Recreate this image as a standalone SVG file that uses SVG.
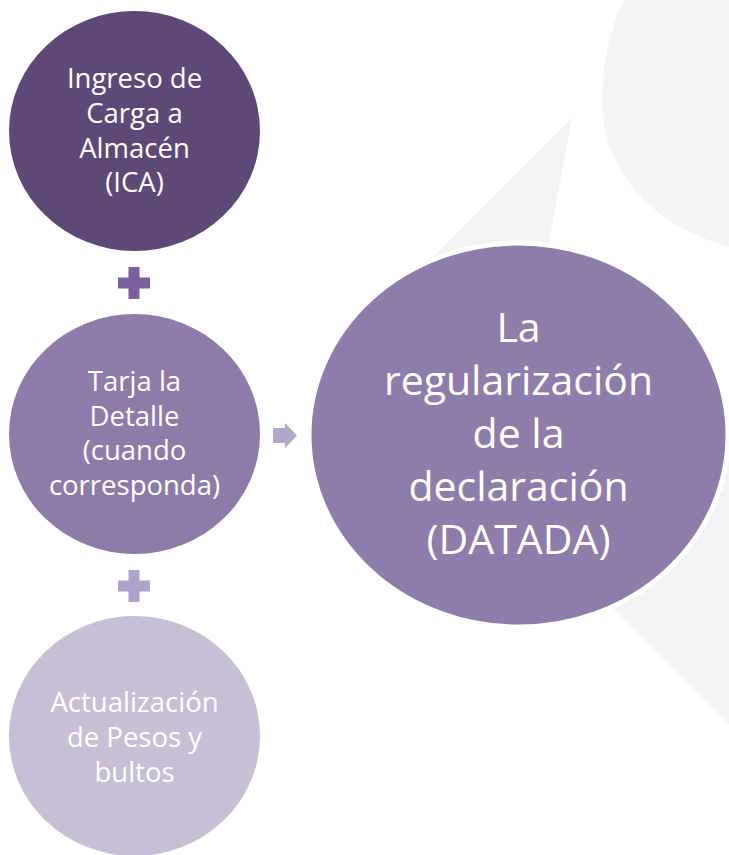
<svg xmlns="http://www.w3.org/2000/svg" width="729" height="855" viewBox="0 0 729 855">
  <style>
    .t { font-family: "Open Sans", "Noto Sans", "Liberation Sans", sans-serif; fill: #ffffff; text-anchor: middle; }
    .s { font-size: 27.5px; }
    .b { font-size: 41px; }
  </style>
  <rect width="729" height="855" fill="#ffffff"/>
  <g id="watermark">
    <path d="M625,0 C616,12 606,45 603,80 C600,110 604,140 618,165 C632,192 660,218 690,232 C705,239 718,244 729,247 L729,0 Z" fill="#f6f3f3"/>
    <polygon points="572,118 420,270 500,495 729,724 729,440 545,262" fill="#f2f3f5"/>
  </g>
  <g id="node-ica">
    <ellipse cx="134.5" cy="131" rx="125.5" ry="120" fill="#5e4878"/>
    <text class="t s" x="134.5" y="88">Ingreso de</text>
    <text class="t s" x="134.5" y="123">Carga a</text>
    <text class="t s" x="134.5" y="158">Almacén</text>
    <text class="t s" x="134.5" y="192">(ICA)</text>
  </g>
  <g id="node-tarja">
    <ellipse cx="134.5" cy="434" rx="125.5" ry="120" fill="#8e7baa"/>
    <text class="t s" x="134.5" y="391">Tarja la</text>
    <text class="t s" x="134.5" y="426">Detalle</text>
    <text class="t s" x="134.5" y="460">(cuando</text>
    <text class="t s" x="134.5" y="495">corresponda)</text>
  </g>
  <g id="node-pesos">
    <ellipse cx="134.5" cy="736" rx="125.5" ry="120" fill="#c6bfd6"/>
    <text class="t s" x="134.5" y="712">Actualización</text>
    <text class="t s" x="134.5" y="747">de Pesos y</text>
    <text class="t s" x="134.5" y="782">bultos</text>
  </g>
  <g id="node-datada">
    <ellipse cx="518.5" cy="435" rx="209.5" ry="192" fill="#8e7cab" stroke="#ffffff" stroke-width="5"/>
    <text class="t b" x="518.5" y="342">La</text>
    <text class="t b" x="518.5" y="395">regularización</text>
    <text class="t b" x="518.5" y="448">de la</text>
    <text class="t b" x="518.5" y="501">declaración</text>
    <text class="t b" x="518.5" y="554">(DATADA)</text>
  </g>
  <g id="connectors">
    <path d="M128.5,267 H139.5 V277.5 H150 V288.5 H139.5 V299 H128.5 V288.5 H118 V277.5 H128.5 Z" fill="#7b609c"/>
    <path d="M128.5,570 H139.5 V580.5 H150 V591.5 H139.5 V602 H128.5 V591.5 H118 V580.5 H128.5 Z" fill="#b0a3c7"/>
    <path d="M273,428 H285 V423 L297,435.5 L285,448 V443 H273 Z" fill="#b3a6c9"/>
  </g>
</svg>
